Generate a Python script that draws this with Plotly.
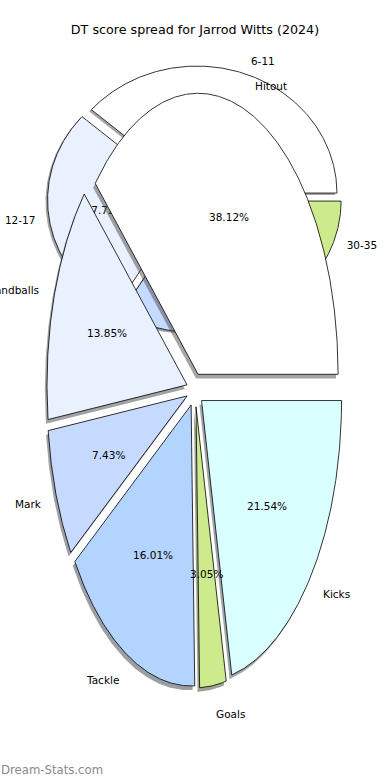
import numpy as np
import plotly.graph_objects as go

# ---------------- data ----------------
chart_title = "DT score spread for Jarrod Witts (2024)"
watermark = "Dream-Stats.com"

spread_labels = ["6-11", "12-17", "18-23", "24-29", "30-35"]
spread_pct = [38.60, 27.72, 10.00, 13.10, 10.58]

stat_labels = ["Hitout", "Handballs", "Mark", "Tackle", "Goals", "Kicks"]
stat_pct = [38.12, 13.85, 7.43, 16.01, 3.05, 21.54]

palette = ["#ffffff", "#eaf1fe", "#c6d9ff", "#b3d4ff", "#cdea8c", "#d9ffff"]

# ---------------- layout constants ----------------
W, H = 390, 780
FONT = "DejaVu Sans"
LBL_SIZE = 10.5
R = 1.3                 # half range of each pie's axes (unit radius = 1)
SHADOW = 0.015          # shadow offset in data units
LABEL_DIST = 1.1
PCT_DIST = 0.6

pies = [
    dict(labels=spread_labels, values=spread_pct, explode=0.05,
         cx=194.5, cy=199, rx=140, ry=127, xa="x", ya="y"),
    dict(labels=stat_labels, values=stat_pct, explode=0.06,
         cx=195, cy=390, rx=140, ry=281, xa="x2", ya="y2"),
]


def wedge_geometry(values, explode):
    total = float(sum(values))
    t1 = 0.0
    out = []
    for v in values:
        t2 = t1 + 360.0 * v / total
        m = np.deg2rad((t1 + t2) / 2.0)
        ox, oy = explode * np.cos(m), explode * np.sin(m)
        n = max(int(abs(t2 - t1) * 2), 2) + 1
        th = np.deg2rad(np.linspace(t1, t2, n))
        xs = np.concatenate([[ox], ox + np.cos(th), [ox]])
        ys = np.concatenate([[oy], oy + np.sin(th), [oy]])
        out.append(dict(xs=xs, ys=ys, m=m, ox=ox, oy=oy))
        t1 = t2
    return out


def shadow_color(hexc):
    h = hexc.lstrip("#")
    r, g, b = (int(h[i:i + 2], 16) for i in (0, 2, 4))
    return "rgba(%d,%d,%d,0.5)" % (round(r * 0.3), round(g * 0.3), round(b * 0.3))


fig = go.Figure()
annotations = []

for pi, pie in enumerate(pies):
    geo = wedge_geometry(pie["values"], pie["explode"])
    xa, ya = pie["xa"], pie["ya"]
    # shadows (below all wedges of this pie)
    for i, g in enumerate(geo):
        c = palette[i % len(palette)]
        fig.add_trace(go.Scatter(
            x=g["xs"] - SHADOW, y=g["ys"] - SHADOW, xaxis=xa, yaxis=ya,
            mode="lines", fill="toself", fillcolor=shadow_color(c),
            line=dict(width=0), hoverinfo="skip", showlegend=False))
    # wedges
    for i, g in enumerate(geo):
        c = palette[i % len(palette)]
        fig.add_trace(go.Scatter(
            x=g["xs"], y=g["ys"], xaxis=xa, yaxis=ya,
            mode="lines", fill="toself", fillcolor=c,
            line=dict(color="black", width=0.8), hoverinfo="skip",
            showlegend=False, name=pie["labels"][i]))
    # texts
    total = float(sum(pie["values"]))
    for i, g in enumerate(geo):
        lx = g["ox"] + LABEL_DIST * np.cos(g["m"])
        ly = g["oy"] + LABEL_DIST * np.sin(g["m"])
        px = g["ox"] + PCT_DIST * np.cos(g["m"])
        py = g["oy"] + PCT_DIST * np.sin(g["m"])
        pct_txt = "%.2f%%" % (100.0 * pie["values"][i] / total)
        if pi == 0:
            # drawn as trace text so the front pie can cover it
            fig.add_trace(go.Scatter(
                x=[lx], y=[ly], xaxis=xa, yaxis=ya, mode="text",
                text=[pie["labels"][i]],
                textposition="middle right" if lx > 0 else "middle left",
                textfont=dict(family=FONT, size=LBL_SIZE, color="black"),
                cliponaxis=False, hoverinfo="skip", showlegend=False))
            fig.add_trace(go.Scatter(
                x=[px], y=[py], xaxis=xa, yaxis=ya, mode="text",
                text=[pct_txt], textposition="middle center",
                textfont=dict(family=FONT, size=LBL_SIZE, color="black"),
                cliponaxis=False, hoverinfo="skip", showlegend=False))
        else:
            annotations.append(dict(
                x=lx, y=ly, xref=xa, yref=ya, text=pie["labels"][i],
                showarrow=False, xanchor="left" if lx > 0 else "right",
                yanchor="middle", borderpad=0,
                font=dict(family=FONT, size=LBL_SIZE, color="black")))
            annotations.append(dict(
                x=px, y=py, xref=xa, yref=ya, text=pct_txt,
                showarrow=False, xanchor="center", yanchor="middle", borderpad=0,
                font=dict(family=FONT, size=LBL_SIZE, color="black")))

annotations.append(dict(
    x=0, y=1 - 770.0 / H, xref="paper", yref="paper", text=watermark,
    showarrow=False, xanchor="left", yanchor="middle", borderpad=0,
    font=dict(family=FONT, size=11.7, color="#8a8a8a")))

layout_axes = {}
for k, pie in enumerate(pies):
    sfx = "" if k == 0 else str(k + 1)
    xd = [(pie["cx"] - R * pie["rx"]) / W, (pie["cx"] + R * pie["rx"]) / W]
    yd = [1 - (pie["cy"] + R * pie["ry"]) / H, 1 - (pie["cy"] - R * pie["ry"]) / H]
    layout_axes["xaxis" + sfx] = dict(domain=xd, range=[-R, R], visible=False,
                                     fixedrange=True, anchor="y" + sfx)
    layout_axes["yaxis" + sfx] = dict(domain=yd, range=[-R, R], visible=False,
                                     fixedrange=True, anchor="x" + sfx)

fig.update_layout(
    width=W, height=H,
    margin=dict(l=0, r=0, t=0, b=0),
    paper_bgcolor="white", plot_bgcolor="rgba(0,0,0,0)",
    title=dict(text=chart_title, x=0.5, xanchor="center",
               y=1 - 30.0 / H, yanchor="middle",
               font=dict(family=FONT, size=12.7, color="black")),
    annotations=annotations,
    showlegend=False,
    **layout_axes,
)

fig.write_html("out.html", config={"displayModeBar": False},
               post_script="document.body.style.margin='0px';")
